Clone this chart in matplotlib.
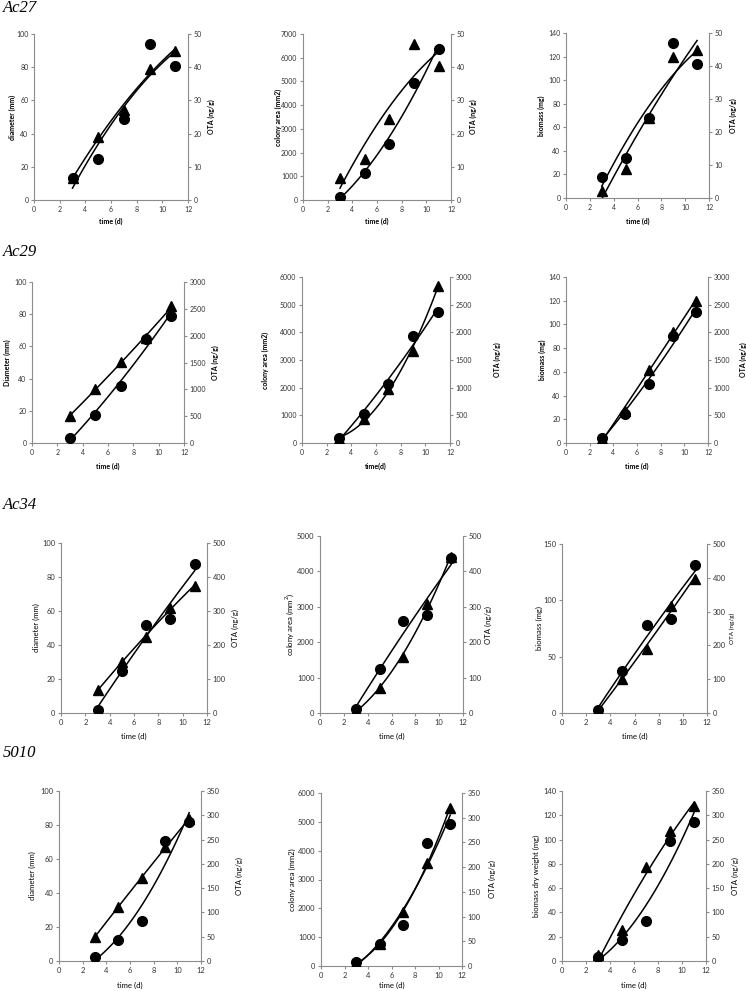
import numpy as np
import matplotlib
matplotlib.use("Agg")
import matplotlib.pyplot as plt

plt.rcParams['font.family'] = ['Lato', 'DejaVu Sans']

W, H = 746, 991

days = [3, 5, 7, 9, 11]

# OTA (ng/g) per strain
ota_ac27 = [6.5, 12.2, 24.3, 47.0, 40.5]
ota_ac29 = [90, 530, 1065, 1940, 2360]
ota_ac34 = [10, 125, 259, 277, 437]
ota_5010 = [9, 43.5, 83, 248, 287]

# growth parameters per strain
diam_ac27 = [13, 38, 54.5, 79, 90]
area_ac27 = [141, 1155, 2352, 4915, 6366]
biom_ac27 = [5.6, 24.6, 67.7, 120, 126]

diam_ac29 = [16.7, 33.8, 50.5, 65, 85]
area_ac29 = [150, 855, 1940, 3313, 5687]
biom_ac29 = [3, 26.6, 61.6, 93.8, 119.6]

diam_ac34 = [13.3, 30, 45, 62, 75]
area_ac34 = [60, 703, 1595, 3067, 4409]
biom_ac34 = [3, 30.5, 56.8, 94.7, 119]

diam_5010 = [13.9, 31.9, 49.1, 67, 83.7]
area_5010 = [100, 750, 1880, 3588, 5492]
biom_5010 = [4.9, 25.5, 77.5, 106.8, 127.4]

strains = ['Ac27', 'Ac29', 'Ac34', '5010']
ota_all = [ota_ac27, ota_ac29, ota_ac34, ota_5010]
growth_all = [[diam_ac27, area_ac27, biom_ac27],
              [diam_ac29, area_ac29, biom_ac29],
              [diam_ac34, area_ac34, biom_ac34],
              [diam_5010, area_5010, biom_5010]]

ylabels = [["diameter (mm)", "colony area (mm2)", "biomass (mg)"],
           ["Diameter (mm)", "colony area (mm2)", "biomass (mg)"],
           ["diameter (mm)", "colony area (mm$^2$)", "biomass (mg)"],
           ["diameter (mm)", "colony area (mm2)", "biomass dry weight (mg)"]]
xlabels = [["time (d)"] * 3,
           ["time (d)", "time(d)", "time (d)"],
           ["time (d)"] * 3,
           ["time (d)"] * 3]

left_lims = [[(100, 20), (7000, 1000), (140, 20)],
             [(100, 20), (6000, 1000), (140, 20)],
             [(100, 20), (5000, 1000), (150, 50)],
             [(100, 20), (6000, 1000), (140, 20)]]
right_lims = [(50, 10), (3000, 500), (500, 100), (350, 50)]

# marker used for the OTA series in each panel
ota_marker = [['o', '^', 'o'], ['o'] * 3, ['o'] * 3, ['o'] * 3]

# layout in pixels: (left, right, top, bottom)
boxes = [[(34, 188, 34, 200), (303, 451, 34, 200), (566, 709, 33, 198)],
         [(32, 184, 282, 443), (302, 450, 277, 443), (566, 708, 277, 443)],
         [(61, 207, 543, 713), (320, 463, 536, 713), (562, 707, 544, 713)],
         [(59, 201, 791, 961), (321, 462, 793, 966), (562, 706, 791, 961)]]
title_y = [8, 252, 505, 753]
xlabel_y = [221, 466, 736, 985]
ylab_left_x = [[12, 278, 541], [7, 265, 542], [36, 290, 539], [32, 292, 536]]
ylab_right_x = [[211, 473, 733], [215, 497, 743], [235, 488, 732], [239, 492, 735]]
bold_row = [True, True, False, False]
tick_fs = [5.0, 5.0, 5.4, 5.4]
lab_fs = [5.0, 5.0, 5.6, 5.6]

grey = '#8c8c8c'

fig = plt.figure(figsize=(W / 100, H / 100), dpi=100)


def style_axis(a):
    for s in a.spines.values():
        s.set_color(grey)
        s.set_linewidth(0.8)
    a.spines['top'].set_visible(False)
    a.tick_params(colors=grey, length=2.5, width=0.8, direction='out', pad=1.5)


xx = np.linspace(3, 11, 100)

for r in range(4):
    fig.text(3 / W, 1 - title_y[r] / H, strains[r], fontsize=12, style='italic',
             family='Liberation Serif', ha='left', va='center')
    fw = 'bold' if bold_row[r] else 'normal'
    for c in range(3):
        l, rr, t, b = boxes[r][c]
        ax = fig.add_axes([l / W, 1 - b / H, (rr - l) / W, (b - t) / H])
        ax2 = ax.twinx()
        style_axis(ax)
        style_axis(ax2)
        ax.spines['right'].set_visible(False)
        ax2.spines['left'].set_visible(False)
        ax2.spines['bottom'].set_visible(False)

        growth = growth_all[r][c]
        ota = ota_all[r]
        om = ota_marker[r][c]
        gm = '^' if om == 'o' else 'o'

        ax.plot(days, growth, linestyle='none', marker=gm, color='black', ms=7, zorder=3)
        ax.plot(xx, np.polyval(np.polyfit(days, growth, 2), xx), color='black', lw=1.1)
        ax2.plot(days, ota, linestyle='none', marker=om, color='black', ms=7, zorder=3)
        ax2.plot(xx, np.polyval(np.polyfit(days, ota, 2), xx), color='black', lw=1.1)

        ax.set_xlim(0, 12)
        ax.set_xticks(range(0, 13, 2))
        ymax, ystep = left_lims[r][c]
        ax.set_ylim(0, ymax)
        ax.set_yticks(np.arange(0, ymax + 1, ystep))
        rmax, rstep = right_lims[r]
        ax2.set_ylim(0, rmax)
        ax2.set_yticks(np.arange(0, rmax + 1, rstep))
        for a in (ax, ax2):
            for lab in a.get_xticklabels() + a.get_yticklabels():
                lab.set_color('#333333')
                lab.set_fontsize(tick_fs[r])

        ax.set_xlabel(xlabels[r][c], fontsize=lab_fs[r], fontweight=fw)
        ax.xaxis.set_label_coords(0.5, (b - xlabel_y[r]) / (b - t))
        ax.xaxis.label.set_va('center')

        ax.set_ylabel(ylabels[r][c], fontsize=lab_fs[r], fontweight=fw)
        ax.yaxis.set_label_coords((ylab_left_x[r][c] - l) / (rr - l), 0.5)
        ax.yaxis.label.set_va('center')

        rfs = lab_fs[r] - 1 if (r == 2 and c == 2) else lab_fs[r]
        ax2.set_ylabel("OTA (ng/g)", fontsize=rfs, fontweight=fw)
        ax2.yaxis.set_label_coords((ylab_right_x[r][c] - l) / (rr - l), 0.5)
        ax2.yaxis.label.set_va('center')

fig.savefig('out.png', dpi=100)
